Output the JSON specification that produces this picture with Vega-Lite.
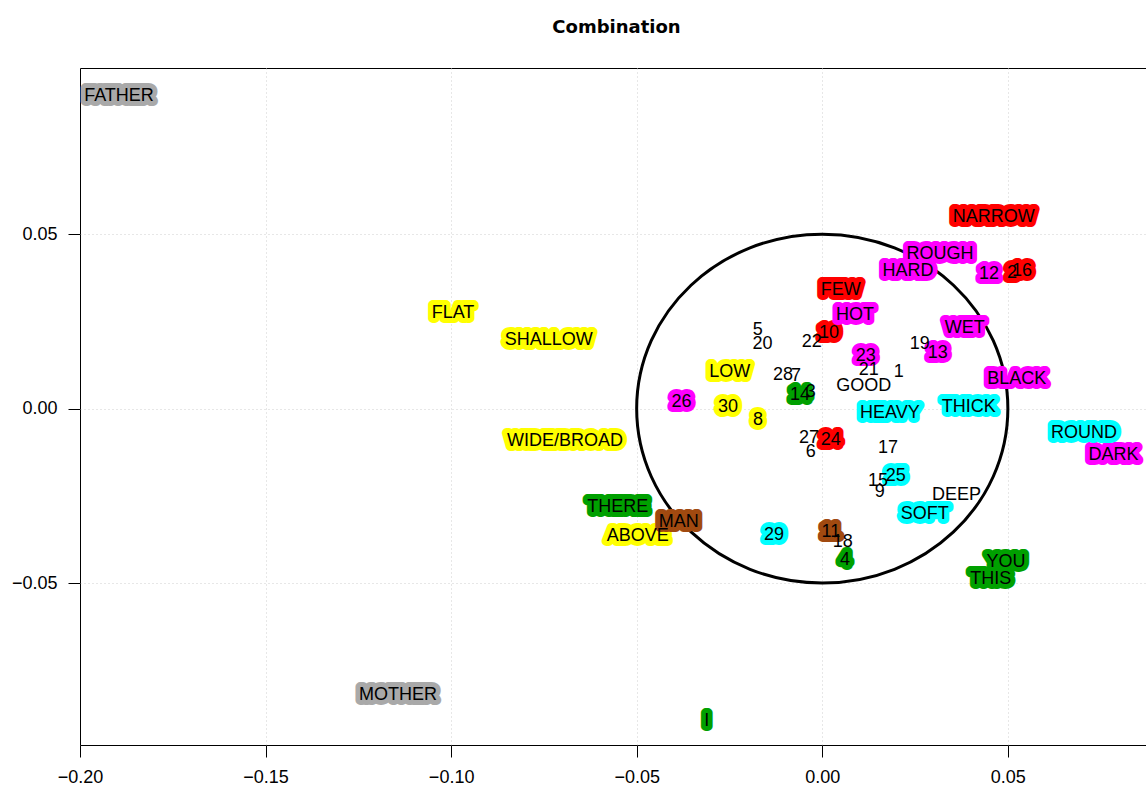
{
  "$schema": "https://vega.github.io/schema/vega-lite/v6.json",
  "width": 1067,
  "height": 677,
  "autosize": {"type": "none"},
  "padding": {"left": 80, "top": 68, "right": 0, "bottom": 42},
  "background": "white",
  "title": {"text": "Combination", "font": "DejaVu Sans", "fontSize": 18, "fontWeight": "bold", "color": "black", "anchor": "middle", "baseline": "alphabetic", "offset": 17, "frame": "group", "dx": 3},
  "config": {
    "view": {"stroke": "black", "strokeWidth": 1},
    "axis": {"domain": false, "tickColor": "black", "tickSize": 12, "tickWidth": 1, "labelFont": "Liberation Sans", "labelFontSize": 18, "labelColor": "black", "grid": true, "gridDash": [1, 3], "gridColor": "#cfcfcf", "gridOpacity": {"condition": {"test": "datum.value <= -0.199", "value": 0}, "value": 1}, "labelFlush": false, "labelOverlap": false, "title": null}
  },
  "datasets": {
    "labels": [
      {"label": "FATHER", "x": -0.1895, "y": 0.0898, "grp": "gray"},
      {"label": "MOTHER", "x": -0.1143, "y": -0.0818, "grp": "gray"},
      {"label": "FLAT", "x": -0.0995, "y": 0.0277, "grp": "yellow"},
      {"label": "SHALLOW", "x": -0.0737, "y": 0.0199, "grp": "yellow"},
      {"label": "WIDE/BROAD", "x": -0.0693, "y": -0.009, "grp": "yellow"},
      {"label": "LOW", "x": -0.0249, "y": 0.0107, "grp": "yellow"},
      {"label": "30", "x": -0.0254, "y": 0.0007, "grp": "yellow"},
      {"label": "8", "x": -0.0173, "y": -0.003, "grp": "yellow"},
      {"label": "ABOVE", "x": -0.0497, "y": -0.0362, "grp": "yellow"},
      {"label": "THERE", "x": -0.0551, "y": -0.0279, "grp": "green"},
      {"label": "14", "x": -0.006, "y": 0.0042, "grp": "green"},
      {"label": "4", "x": 0.0061, "y": -0.0431, "grp": "green"},
      {"label": "I", "x": -0.0311, "y": -0.0893, "grp": "green"},
      {"label": "YOU", "x": 0.0495, "y": -0.0437, "grp": "green"},
      {"label": "THIS", "x": 0.0454, "y": -0.0486, "grp": "green"},
      {"label": "NARROW", "x": 0.0462, "y": 0.0552, "grp": "red"},
      {"label": "FEW", "x": 0.005, "y": 0.0342, "grp": "red"},
      {"label": "10", "x": 0.0018, "y": 0.0219, "grp": "red"},
      {"label": "24", "x": 0.0023, "y": -0.0087, "grp": "red"},
      {"label": "2", "x": 0.0511, "y": 0.0391, "grp": "red"},
      {"label": "16", "x": 0.0538, "y": 0.0397, "grp": "red"},
      {"label": "ROUGH", "x": 0.0317, "y": 0.0446, "grp": "magenta"},
      {"label": "HARD", "x": 0.0231, "y": 0.0397, "grp": "magenta"},
      {"label": "12", "x": 0.0449, "y": 0.0388, "grp": "magenta"},
      {"label": "HOT", "x": 0.0088, "y": 0.0271, "grp": "magenta"},
      {"label": "WET", "x": 0.0384, "y": 0.0234, "grp": "magenta"},
      {"label": "13", "x": 0.0311, "y": 0.0162, "grp": "magenta"},
      {"label": "23", "x": 0.0117, "y": 0.0153, "grp": "magenta"},
      {"label": "BLACK", "x": 0.0524, "y": 0.0087, "grp": "magenta"},
      {"label": "26", "x": -0.0379, "y": 0.0021, "grp": "magenta"},
      {"label": "DARK", "x": 0.0785, "y": -0.013, "grp": "magenta"},
      {"label": "HEAVY", "x": 0.0182, "y": -0.001, "grp": "cyan"},
      {"label": "THICK", "x": 0.0395, "y": 0.0007, "grp": "cyan"},
      {"label": "ROUND", "x": 0.0705, "y": -0.0067, "grp": "cyan"},
      {"label": "25", "x": 0.0198, "y": -0.0191, "grp": "cyan"},
      {"label": "SOFT", "x": 0.0276, "y": -0.0299, "grp": "cyan"},
      {"label": "29", "x": -0.013, "y": -0.036, "grp": "cyan"},
      {"label": "MAN", "x": -0.0387, "y": -0.0322, "grp": "brown"},
      {"label": "11", "x": 0.0023, "y": -0.0351, "grp": "brown"},
      {"label": "5", "x": -0.0174, "y": 0.0228, "grp": "none"},
      {"label": "20", "x": -0.0161, "y": 0.0188, "grp": "none"},
      {"label": "22", "x": -0.0028, "y": 0.0193, "grp": "none"},
      {"label": "28", "x": -0.0106, "y": 0.0099, "grp": "none"},
      {"label": "7", "x": -0.0071, "y": 0.0096, "grp": "none"},
      {"label": "3", "x": -0.0031, "y": 0.005, "grp": "none"},
      {"label": "GOOD", "x": 0.0112, "y": 0.0067, "grp": "none"},
      {"label": "21", "x": 0.0125, "y": 0.0113, "grp": "none"},
      {"label": "1", "x": 0.0206, "y": 0.0107, "grp": "none"},
      {"label": "19", "x": 0.0263, "y": 0.0188, "grp": "none"},
      {"label": "17", "x": 0.0177, "y": -0.011, "grp": "none"},
      {"label": "27", "x": -0.0036, "y": -0.0082, "grp": "none"},
      {"label": "6", "x": -0.0031, "y": -0.0122, "grp": "none"},
      {"label": "15", "x": 0.015, "y": -0.0205, "grp": "none"},
      {"label": "9", "x": 0.0155, "y": -0.0236, "grp": "none"},
      {"label": "DEEP", "x": 0.0362, "y": -0.0245, "grp": "none"},
      {"label": "18", "x": 0.0055, "y": -0.038, "grp": "none"}
    ],
    "centre": [{"x": 0, "y": 0}]
  },
  "encoding": {
    "x": {"field": "x", "type": "quantitative", "scale": {"domain": [-0.2, 0.0875], "nice": false, "zero": false}, "axis": {"values": [-0.2, -0.15, -0.1, -0.05, 0, 0.05], "format": ".2f", "labelPadding": 11}},
    "y": {"field": "y", "type": "quantitative", "scale": {"domain": [-0.0964, 0.0976], "nice": false, "zero": false}, "axis": {"values": [-0.05, 0, 0.05], "format": ".2f", "labelPadding": 11}}
  },
  "layer": [
    {
      "data": {"name": "centre"},
      "mark": {"type": "point", "shape": "M-1,0C-1,-0.5192,-0.5523,-0.94,0,-0.94C0.5523,-0.94,1,-0.5192,1,0C1,0.5192,0.5523,0.94,0,0.94C-0.5523,0.94,-1,0.5192,-1,0Z", "size": 137789, "filled": false, "stroke": "black", "strokeWidth": 3, "opacity": 1}
    },
    {
      "data": {"name": "labels"},
      "transform": [{"filter": "datum.grp !== 'none'"}],
      "mark": {"type": "text", "font": "Liberation Sans", "fontSize": 18, "baseline": "middle", "align": "center", "strokeWidth": 10, "strokeJoin": "round", "dy": 1},
      "encoding": {
        "text": {"field": "label"},
        "stroke": {"field": "grp", "type": "nominal", "scale": {"domain": ["gray", "yellow", "green", "red", "magenta", "cyan", "brown"], "range": ["#A9A9A9", "#FFFF00", "#00A000", "#FF0000", "#FF00FF", "#00FFFF", "#A14A10"]}, "legend": null},
        "fill": {"field": "grp", "type": "nominal", "scale": {"domain": ["gray", "yellow", "green", "red", "magenta", "cyan", "brown"], "range": ["#A9A9A9", "#FFFF00", "#00A000", "#FF0000", "#FF00FF", "#00FFFF", "#A14A10"]}, "legend": null}
      }
    },
    {
      "data": {"name": "labels"},
      "mark": {"type": "text", "font": "Liberation Sans", "fontSize": 18, "baseline": "middle", "align": "center", "color": "black", "dy": 1},
      "encoding": {"text": {"field": "label"}}
    }
  ]
}
